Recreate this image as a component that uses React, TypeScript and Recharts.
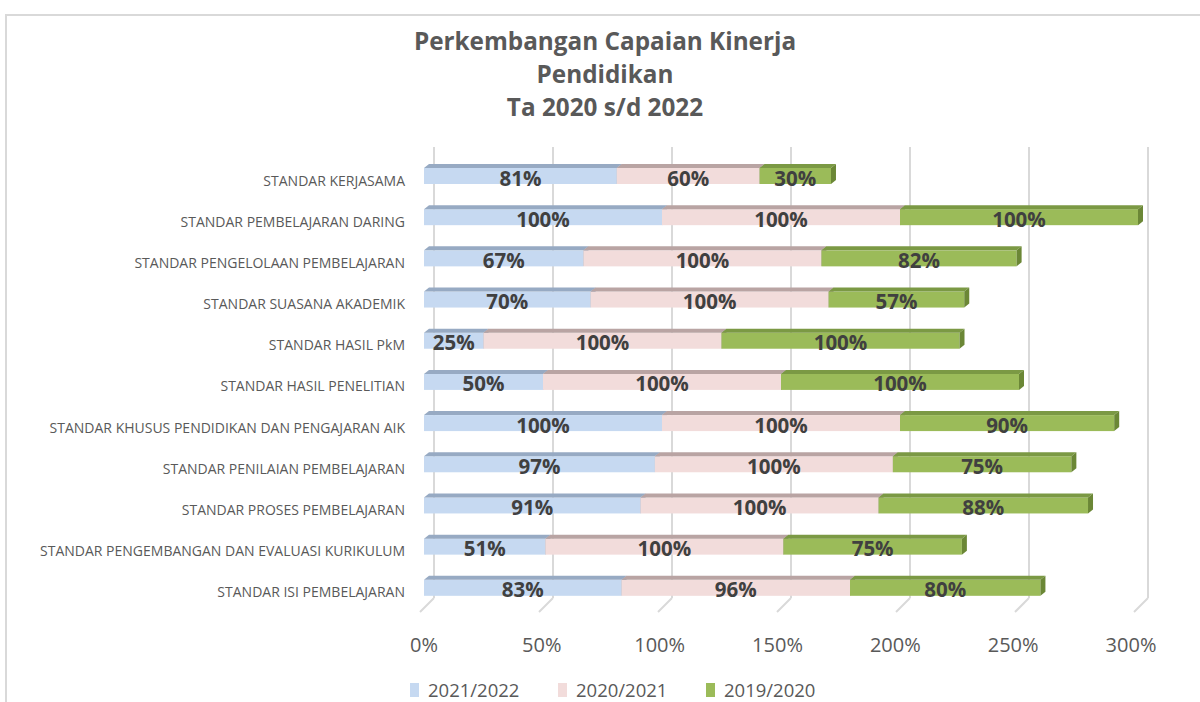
import React from "react";
import { BarChart, Bar, XAxis, YAxis, CartesianGrid, LabelList } from "recharts";

const categories = [
  "STANDAR KERJASAMA",
  "STANDAR PEMBELAJARAN DARING",
  "STANDAR PENGELOLAAN PEMBELAJARAN",
  "STANDAR SUASANA AKADEMIK",
  "STANDAR HASIL PkM",
  "STANDAR HASIL PENELITIAN",
  "STANDAR KHUSUS PENDIDIKAN DAN PENGAJARAN AIK",
  "STANDAR PENILAIAN PEMBELAJARAN",
  "STANDAR PROSES PEMBELAJARAN",
  "STANDAR PENGEMBANGAN DAN EVALUASI KURIKULUM",
  "STANDAR ISI PEMBELAJARAN",
];

const tahun2122 = [81, 100, 67, 70, 25, 50, 100, 97, 91, 51, 83];
const tahun2021 = [60, 100, 100, 100, 100, 100, 100, 100, 100, 100, 96];
const tahun1920 = [30, 100, 82, 57, 100, 100, 90, 75, 88, 75, 80];

const xTicks = [0, 50, 100, 150, 200, 250, 300];

const seriesNames = ["2021/2022", "2020/2021", "2019/2020"];

const data = categories.map((name, i) => ({
  name,
  y2122: tahun2122[i],
  y2021: tahun2021[i],
  y1920: tahun1920[i],
}));

const palette = [
  { front: "#c6d9f1", top: "#97aac3", side: "#8fa1b8" },
  { front: "#f2dcdb", top: "#b9a4a3", side: "#ad9999" },
  { front: "#9bbb59", top: "#7b9944", side: "#6b8736" },
];

const DX = 5;
const DY = 4;

// 3D-ish bar: front face, top face and right side
const make3D = (c: { front: string; top: string; side: string }) => (p: any) => {
  const { x, y, width, height } = p;
  if (!width || width <= 0) return <g />;
  return (
    <g>
      <rect x={x} y={y} width={width} height={height} fill={c.front} />
      <polygon
        points={`${x},${y} ${x + width},${y} ${x + width + DX},${y - DY} ${x + DX},${y - DY}`}
        fill={c.top}
      />
      <polygon
        points={`${x + width},${y} ${x + width + DX},${y - DY} ${x + width + DX},${y + height - DY} ${x + width},${y + height}`}
        fill={c.side}
      />
    </g>
  );
};

const renderLabel = (p: any) => {
  const { x, y, width, height, value } = p;
  return (
    <text
      x={x + width / 2}
      y={y + height + 1.5}
      textAnchor="middle"
      fill="#404040"
      fontSize={20.5}
      fontWeight={700}
      fontFamily="Open Sans"
    >
      {value}%
    </text>
  );
};

const YTick = (p: any) => (
  <text
    x={p.x}
    y={p.y + 5}
    dy="0.355em"
    textAnchor="end"
    fill="#595959"
    fontSize={14}
    fontFamily="Open Sans"
  >
    {p.payload.value}
  </text>
);

const XTick = (p: any) => (
  <text
    x={p.x - (p.payload.value / 300) * 7}
    y={p.y + 36}
    textAnchor="middle"
    fill="#595959"
    fontSize={20}
    fontFamily="Open Sans"
  >
    {p.payload.value}%
  </text>
);

const gridLine = (p: any) => {
  const { x1, y1, y2 } = p;
  const gx = x1 + 10;
  return (
    <g key={`g-${x1}`}>
      <line x1={gx} y1={y1 - 8} x2={gx} y2={y2 - 10} stroke="#d9d9d9" strokeWidth={2} />
      <line x1={gx} y1={y2 - 10} x2={x1 - 4} y2={y2 + 4} stroke="#d9d9d9" strokeWidth={2} />
    </g>
  );
};

export default function App() {
  return (
    <div
      style={{
        position: "relative",
        width: 1200,
        height: 702,
        background: "#fff",
        fontFamily: "Open Sans",
        overflow: "hidden",
      }}
    >
      <style>{`body{margin:0}`}</style>
      <div
        style={{
          position: "absolute",
          left: 5,
          top: 14,
          width: 1200,
          height: 702,
          borderLeft: "2px solid #d9d9d9",
          borderTop: "2px solid #d9d9d9",
        }}
      />
      <div
        style={{
          position: "absolute",
          left: 305,
          width: 600,
          top: 24,
          textAlign: "center",
          color: "#595959",
          fontWeight: 700,
          fontSize: 24.3,
          lineHeight: "33px",
        }}
      >
        Perkembangan Capaian Kinerja
        <br />
        Pendidikan
        <br />
        Ta 2020 s/d 2022
      </div>
      <div style={{ position: "absolute", left: 0, top: 0 }}>
        <BarChart
          width={1200}
          height={702}
          data={data}
          layout="vertical"
          margin={{ top: 155, right: 62, bottom: 0, left: 0 }}
        >
          <CartesianGrid horizontal={false} vertical={gridLine} />
          <XAxis
            type="number"
            domain={[0, 300]}
            ticks={xTicks}
            axisLine={false}
            tickLine={false}
            height={94}
            tick={<XTick />}
            interval={0}
          />
          <YAxis
            type="category"
            dataKey="name"
            width={424}
            axisLine={false}
            tickLine={false}
            tickSize={0}
            tickMargin={19}
            tick={<YTick />}
            interval={0}
          />
          <Bar dataKey="y2122" name={seriesNames[0]} stackId="a" barSize={16} fill={palette[0].front} shape={make3D(palette[0])} isAnimationActive={false}>
            <LabelList dataKey="y2122" content={renderLabel} />
          </Bar>
          <Bar dataKey="y2021" name={seriesNames[1]} stackId="a" barSize={16} fill={palette[1].front} shape={make3D(palette[1])} isAnimationActive={false}>
            <LabelList dataKey="y2021" content={renderLabel} />
          </Bar>
          <Bar dataKey="y1920" name={seriesNames[2]} stackId="a" barSize={16} fill={palette[2].front} shape={make3D(palette[2])} isAnimationActive={false}>
            <LabelList dataKey="y1920" content={renderLabel} />
          </Bar>
        </BarChart>
      </div>
      <div
        style={{
          position: "absolute",
          top: 677,
          left: 410,
          display: "flex",
          gap: 0,
          color: "#595959",
          fontSize: 18.5,
        }}
      >
        {seriesNames.map((n, i) => (
          <div key={n} style={{ display: "flex", alignItems: "center", width: 148 }}>
            <span
              style={{
                display: "inline-block",
                width: 9,
                height: 14,
                background: palette[i].front,
                marginRight: 9,
              }}
            />
            <span>{n}</span>
          </div>
        ))}
      </div>
    </div>
  );
}
